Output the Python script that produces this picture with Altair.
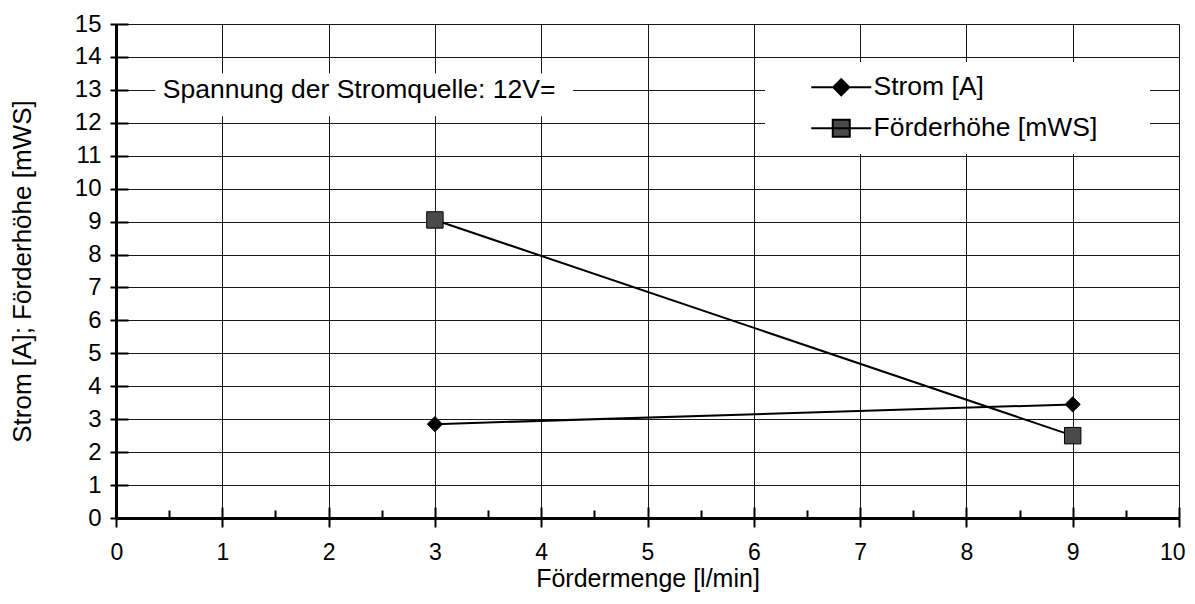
import altair as alt
import pandas as pd

# ---- data ----
x_values = [3, 9]
strom = [2.85, 3.45]
foerderhoehe = [9.05, 2.5]
series_names = ["Strom [A]", "Förderhöhe [mWS]"]

annot_text = ["Spannung der Stromquelle: 12V="]
annot_x = [0.44]
annot_y = [13]
annot_box_x = [0.37]
annot_box_x2 = [4.3]
annot_box_y = [13.5]
annot_box_y2 = [12.2]

FONT = "Liberation Sans"
W, H = 1063, 494

rows = []
for i, xv in enumerate(x_values):
    rows.append({"x": xv, "y": strom[i], "Serie": series_names[0]})
    rows.append({"x": xv, "y": foerderhoehe[i], "Serie": series_names[1]})
df = pd.DataFrame(rows)

ann_df = pd.DataFrame({"x": annot_x, "y": annot_y, "t": annot_text,
                       "bx": annot_box_x, "bx2": annot_box_x2,
                       "by": annot_box_y, "by2": annot_box_y2})

xdom = alt.Scale(domain=[0, 10], nice=False, zero=False)
ydom = alt.Scale(domain=[0, 15], nice=False, zero=False)

main_x_axis = alt.Axis(orient="bottom", values=list(range(0, 11)),
                       title="Fördermenge [l/min]", labelFlush=True,
                       labelFlushOffset=6,
                       grid=True, gridColor="black", gridWidth=1, gridOpacity=0.9,
                       domainColor="black", domainWidth=3, tickColor="black",
                       tickWidth=2, tickSize=9, labelFont=FONT, labelFontSize=23,
                       labelColor="black", labelPadding=14, titleFont=FONT,
                       titleFontSize=25, titleFontWeight="normal", titleColor="black",
                       titleBaseline="alphabetic", titleY=68)
main_y_axis = alt.Axis(orient="left", values=list(range(0, 16)),
                       title="Strom [A]; Förderhöhe [mWS]", labelFlush=False,
                       grid=True, gridColor="black", gridWidth=1, gridOpacity=0.9,
                       domainColor="black", domainWidth=3, tickColor="black",
                       tickWidth=2, tickSize=6, labelFont=FONT, labelFontSize=24,
                       labelColor="black", labelPadding=9, titleFont=FONT,
                       titleFontSize=26, titleFontWeight="normal", titleColor="black",
                       titleBaseline="middle", titleX=-94)
inner_x_major = alt.Axis(values=list(range(0, 11)), title=None, labels=False,
                         domain=False, grid=False, orient="bottom", offset=-11,
                         tickSize=11, tickWidth=2, tickColor="black")
inner_x_minor = alt.Axis(values=[v + 0.5 for v in range(0, 10)], title=None,
                         labels=False, domain=False, grid=False, orient="bottom",
                         offset=-8, tickSize=8, tickWidth=2, tickColor="black")
inner_y = alt.Axis(values=list(range(0, 16)), title=None, labels=False,
                   domain=False, grid=False, orient="left", offset=-12,
                   tickSize=12, tickWidth=2, tickColor="black")

# annotation background + text
ann_rect = alt.Chart(ann_df).mark_rect(color="white").encode(
    x=alt.X("bx:Q", scale=xdom, axis=inner_x_major),
    x2="bx2:Q",
    y=alt.Y("by:Q", scale=ydom, axis=inner_y),
    y2="by2:Q",
)
ann_text = alt.Chart(ann_df).mark_text(
    align="left", baseline="middle", font=FONT, fontSize=26.5, color="black"
).encode(
    x=alt.X("x:Q", scale=xdom, axis=inner_x_minor),
    y=alt.Y("y:Q", scale=ydom, axis=None),
    text="t:N",
)

lines = alt.Chart(df).mark_line(color="black", strokeWidth=2).encode(
    x=alt.X("x:Q", scale=xdom, axis=main_x_axis),
    y=alt.Y("y:Q", scale=ydom, axis=main_y_axis),
    detail="Serie:N",
)

points = alt.Chart(df).mark_point(filled=True, stroke="black", strokeWidth=1,
                                  opacity=1).encode(
    x=alt.X("x:Q", scale=xdom, axis=None),
    y=alt.Y("y:Q", scale=ydom, axis=None),
    shape=alt.Shape("Serie:N", scale=alt.Scale(domain=series_names,
                                                range=["diamond", "square"]),
                    legend=None),
    color=alt.Color("Serie:N", scale=alt.Scale(domain=series_names,
                                                range=["black", "#4a4a4a"]),
                    legend=None),
    size=alt.Size("Serie:N", scale=alt.Scale(domain=series_names,
                                              range=[230, 270]), legend=None),
)

legend_paths = [
    "M-3,0H3M0,-0.8L0.8,0L0,0.8L-0.8,0Z",
    "M-3,0H3M-0.85,-0.85H0.85V0.85H-0.85Z",
]
leg = alt.Legend(title=None, orient="none", legendX=649, legendY=38,
                 fillColor="white", padding=12, symbolOffset=51, labelOffset=19,
                 rowPadding=14, labelFont=FONT, labelFontSize=26.5,
                 labelColor="black", labelLimit=600, symbolSize=400,
                 symbolStrokeWidth=2, symbolOpacity=1,
                 labelExpr="datum.label + '\u2800\u2800'")
legend_layer = alt.Chart(df).mark_point(filled=True, opacity=0).encode(
    x=alt.X("x:Q", scale=xdom, axis=None),
    y=alt.Y("y:Q", scale=ydom, axis=None),
    shape=alt.Shape("Serie:N", scale=alt.Scale(domain=series_names,
                                                range=legend_paths),
                    legend=leg),
    fill=alt.Fill("Serie:N", scale=alt.Scale(domain=series_names,
                                              range=["black", "#4a4a4a"]),
                  legend=leg),
    stroke=alt.Stroke("Serie:N", scale=alt.Scale(domain=series_names,
                                                  range=["black", "black"]),
                      legend=leg),
)

chart = alt.layer(ann_rect, ann_text, lines, points, legend_layer).resolve_scale(
    x="independent", y="independent", shape="independent",
    color="independent", size="independent", fill="independent",
    stroke="independent"
).properties(
    width=W, height=H,
    autosize=alt.AutoSizeParams(type="none"),
    padding={"left": 108, "top": 16, "right": 8, "bottom": 78},
).configure_view(stroke="black", strokeWidth=1).configure(background="white")

chart.save("out.html", embed_options={"renderer": "svg", "actions": False})
